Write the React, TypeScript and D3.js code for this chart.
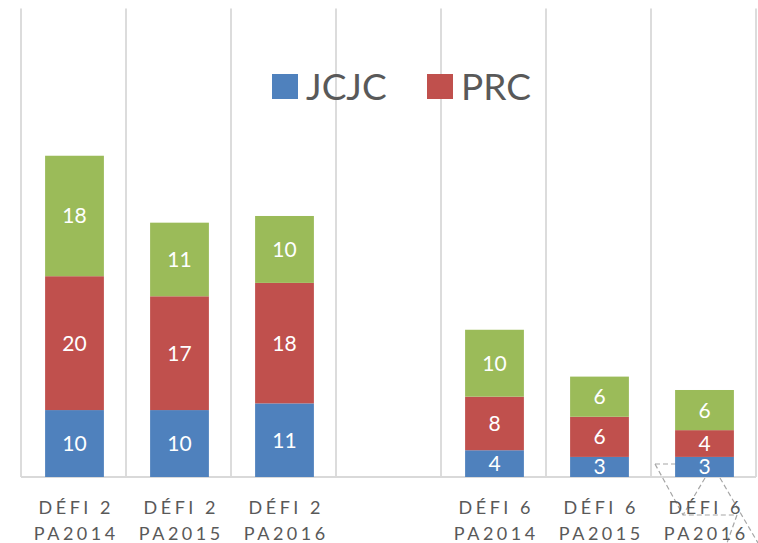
import React from "react";
import * as d3 from "d3";

const categoriesLine1 = ["DÉFI 2", "DÉFI 2", "DÉFI 2", "", "DÉFI 6", "DÉFI 6", "DÉFI 6"];
const categoriesLine2 = ["PA2014", "PA2015", "PA2016", "", "PA2014", "PA2015", "PA2016"];
const categoryKeys = ["c0", "c1", "c2", "c3", "c4", "c5", "c6"];
const jcjc = [10, 10, 11, null, 4, 3, 3];
const prc = [20, 17, 18, null, 8, 6, 4];
const other = [18, 11, 10, null, 10, 6, 6];
const seriesNames = ["JCJC", "PRC", "Autres"];
const seriesColors = ["#4F81BD", "#C0504D", "#9BBB59"];
const legendNames = ["JCJC", "PRC"];
const yMax = 70;

const W = 758;
const H = 543;
const FONT = "Lato, 'Open Sans', sans-serif";

export default function App() {
  const x = d3
    .scaleBand<string>()
    .domain(categoryKeys)
    .range([22, 757])
    .paddingInner(0.44)
    .paddingOuter(0.22);
  const y = d3.scaleLinear().domain([0, yMax]).range([477, 8.5]);

  const rows = categoryKeys.map((k, i) => ({
    key: k,
    JCJC: jcjc[i] ?? 0,
    PRC: prc[i] ?? 0,
    Autres: other[i] ?? 0,
    empty: jcjc[i] == null,
  }));
  const stack = d3.stack<any>().keys(seriesNames)(rows);

  const step = x.step();
  const gridXs = d3.range(categoryKeys.length + 1).map((i) => 21 + i * step);

  return (
    <svg
      width={W}
      height={H}
      style={{ position: "absolute", left: 0, top: 0, background: "#fff" }}
    >
      {gridXs.map((gx, i) => (
        <line key={i} x1={gx} x2={gx} y1={y(yMax)} y2={y(0)} stroke="#dcdcdc" strokeWidth={2} />
      ))}
      <line x1={21} x2={756} y1={y(0)} y2={y(0)} stroke="#d9d9d9" strokeWidth={2} />

      {/* dashed ghost shape near bottom right */}
      <g stroke="#a6a6a6" strokeWidth={1.2} strokeDasharray="5 3" fill="none">
        <path d="M655,464 L678,464" />
        <path d="M655,464 L683,515 L737,515" />
        <path d="M705,478 L683,515" />
        <path d="M720,478 L758,543" />
        <path d="M737,515 L727,543" />
      </g>

      {stack.map((s, si) => (
        <g key={s.key} fill={seriesColors[si]}>
          {s.map((d, i) => {
            if (rows[i].empty) return null;
            const bx = x(categoryKeys[i])!;
            const y0 = y(d[0]);
            const y1 = y(d[1]);
            const v = d[1] - d[0];
            return (
              <g key={i}>
                <rect x={bx} y={y1} width={x.bandwidth()} height={y0 - y1} />
                <text
                  x={bx + x.bandwidth() / 2}
                  y={(y0 + y1) / 2 + 7.5}
                  fill="#fff"
                  fontSize={21}
                  fontFamily={FONT}
                  textAnchor="middle"
                >
                  {v}
                </text>
              </g>
            );
          })}
        </g>
      ))}

      {categoryKeys.map((k, i) => {
        const cx = x(k)! + x.bandwidth() / 2 + 1.75;
        return (
          <g key={k} fill="#595959" fontFamily={FONT} fontSize={18} textAnchor="middle" letterSpacing={3.5}>
            <text x={cx} y={514}>{categoriesLine1[i]}</text>
            <text x={cx} y={540}>{categoriesLine2[i]}</text>
          </g>
        );
      })}

      {legendNames.map((n, i) => {
        const lx = [272, 427][i];
        return (
          <g key={n}>
            <rect x={lx} y={74} width={26} height={25} fill={seriesColors[i]} />
            <text x={lx + 34} y={100} fontSize={37} fontFamily={FONT} fill="#595959">
              {n}
            </text>
          </g>
        );
      })}
    </svg>
  );
}
